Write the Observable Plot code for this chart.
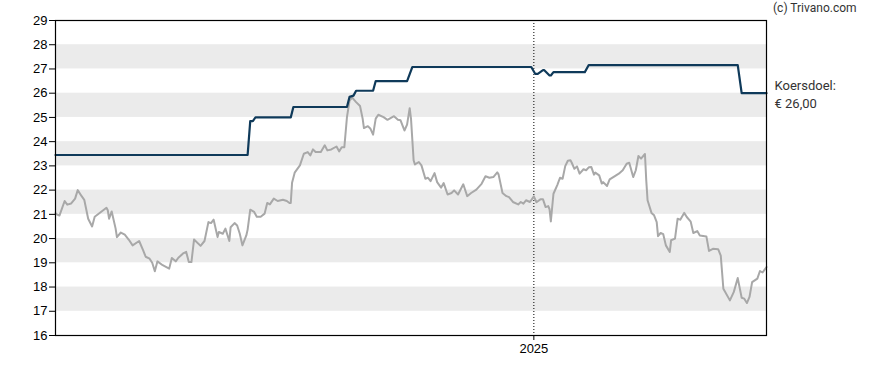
<!DOCTYPE html>
<html>
<head>
<meta charset="utf-8">
<script src="https://cdn.jsdelivr.net/npm/d3@7"></script>
<script src="https://cdn.jsdelivr.net/npm/@observablehq/plot@0.6"></script>
<style>
  html, body { margin: 0; padding: 0; background: #fff; }
  #wrap { position: relative; width: 888px; height: 370px; }
  #credit { position: absolute; left: 773px; top: 0px; font: 12px Roboto, sans-serif; color: #333; line-height: 16px; }
</style>
</head>
<body>
<div id="wrap"><div id="credit">(c) Trivano.com</div></div>
<script>
// ---- data ----
const domainStart = "2024-01-01";
const domainEnd = "2025-06-28";
const yTicks = [16,17,18,19,20,21,22,23,24,25,26,27,28,29];
const bandLows = [17,19,21,23,25,27];
const xTickDates = ["2025-01-01"];
const xTickLabels = ["2025"];
const targetLabel = ["Koersdoel:", "€ 26,00"];

// koersdoel (target price)
const target = [
  ["2024-01-01",23.45],["2024-05-27",23.45],["2024-05-29",24.85],["2024-05-31",24.85],
  ["2024-06-02",25.0],["2024-06-29",25.0],["2024-07-01",25.43],["2024-08-11",25.43],
  ["2024-08-13",25.85],["2024-08-16",25.9],["2024-08-18",26.1],["2024-08-31",26.1],
  ["2024-09-02",26.5],["2024-09-26",26.5],["2024-09-30",27.08],["2024-12-30",27.08],
  ["2025-01-02",26.8],["2025-01-04",26.8],["2025-01-08",26.95],["2025-01-09",26.95],
  ["2025-01-13",26.73],["2025-01-14",26.73],["2025-01-16",26.87],["2025-02-09",26.87],
  ["2025-02-12",27.16],["2025-06-06",27.16],["2025-06-09",26.0],["2025-06-28",26.0]
];

// koers (share price)
const price = [
  ["2024-01-01",21.05],["2024-01-02",21.0],["2024-01-04",20.95],["2024-01-08",21.55],["2024-01-10",21.4],
  ["2024-01-13",21.45],["2024-01-16",21.65],["2024-01-18",22.0],["2024-01-21",21.75],["2024-01-23",21.6],
  ["2024-01-26",20.82],["2024-01-29",20.5],["2024-01-31",20.9],["2024-02-09",21.27],["2024-02-10",21.17],
  ["2024-02-11",20.82],["2024-02-13",21.12],["2024-02-16",20.41],["2024-02-17",20.06],["2024-02-20",20.25],
  ["2024-02-23",20.16],["2024-02-26",19.96],["2024-02-29",19.72],["2024-03-05",19.9],["2024-03-08",19.52],
  ["2024-03-10",19.25],["2024-03-13",19.17],["2024-03-15",19.0],["2024-03-17",18.65],["2024-03-19",19.06],
  ["2024-03-23",18.9],["2024-03-28",18.76],["2024-03-30",19.2],["2024-04-02",19.06],["2024-04-04",19.21],
  ["2024-04-08",19.4],["2024-04-10",19.45],["2024-04-12",19.03],["2024-04-14",19.03],["2024-04-16",19.96],
  ["2024-04-21",19.7],["2024-04-24",19.9],["2024-04-27",20.68],["2024-04-29",20.64],["2024-05-01",20.78],
  ["2024-05-04",20.06],["2024-05-05",20.27],["2024-05-08",20.2],["2024-05-10",20.41],["2024-05-13",19.9],
  ["2024-05-14",20.47],["2024-05-17",20.64],["2024-05-19",20.54],["2024-05-21",20.2],["2024-05-23",19.72],
  ["2024-05-26",20.13],["2024-05-27",20.37],["2024-05-29",21.19],["2024-06-01",21.1],["2024-06-03",20.9],
  ["2024-06-06",20.9],["2024-06-09",21.03],["2024-06-11",21.47],["2024-06-13",21.41],["2024-06-16",21.65],
  ["2024-06-19",21.55],["2024-06-23",21.6],["2024-06-26",21.55],["2024-06-28",21.47],["2024-06-29",21.47],
  ["2024-06-30",22.3],["2024-07-02",22.72],["2024-07-06",23.02],["2024-07-09",23.5],["2024-07-12",23.57],
  ["2024-07-14",23.43],["2024-07-16",23.68],["2024-07-18",23.57],["2024-07-22",23.57],["2024-07-25",23.85],
  ["2024-07-27",23.64],["2024-07-30",23.68],["2024-08-03",23.8],["2024-08-05",23.6],["2024-08-07",23.77],
  ["2024-08-09",23.77],["2024-08-11",25.01],["2024-08-13",25.7],["2024-08-15",25.82],["2024-08-18",25.63],
  ["2024-08-21",25.47],["2024-08-23",24.95],["2024-08-24",24.56],["2024-08-27",24.64],["2024-08-29",24.53],
  ["2024-08-31",24.29],["2024-09-02",24.95],["2024-09-04",25.11],["2024-09-08",25.01],["2024-09-11",24.9],
  ["2024-09-14",24.99],["2024-09-16",25.05],["2024-09-19",24.9],["2024-09-21",24.88],["2024-09-23",24.6],
  ["2024-09-24",24.46],["2024-09-26",24.7],["2024-09-28",25.38],["2024-09-29",24.95],["2024-10-01",23.23],
  ["2024-10-02",23.06],["2024-10-05",23.16],["2024-10-07",23.02],["2024-10-10",22.47],["2024-10-12",22.51],
  ["2024-10-14",22.37],["2024-10-17",22.7],["2024-10-19",22.33],["2024-10-22",22.1],["2024-10-24",22.29],
  ["2024-10-27",21.82],["2024-10-30",21.88],["2024-11-01",21.99],["2024-11-04",21.82],["2024-11-08",22.24],
  ["2024-11-11",21.75],["2024-11-14",21.88],["2024-11-18",22.02],["2024-11-22",22.26],["2024-11-25",22.57],
  ["2024-11-28",22.51],["2024-12-01",22.54],["2024-12-04",22.73],["2024-12-05",22.65],["2024-12-08",21.88],
  ["2024-12-11",21.75],["2024-12-13",21.71],["2024-12-16",21.51],["2024-12-20",21.41],["2024-12-22",21.51],
  ["2024-12-24",21.44],["2024-12-26",21.58],["2024-12-29",21.51],["2025-01-01",21.74],["2025-01-03",21.5],
  ["2025-01-06",21.62],["2025-01-08",21.62],["2025-01-10",21.3],["2025-01-12",21.34],["2025-01-13",21.21],
  ["2025-01-14",20.71],["2025-01-16",21.85],["2025-01-19",22.22],["2025-01-21",22.51],["2025-01-23",22.47],
  ["2025-01-25",22.99],["2025-01-27",23.21],["2025-01-29",23.23],["2025-01-30",23.13],["2025-02-01",22.88],
  ["2025-02-03",22.98],["2025-02-05",22.68],["2025-02-08",22.86],["2025-02-10",22.82],["2025-02-12",22.94],
  ["2025-02-14",22.95],["2025-02-16",22.64],["2025-02-17",22.72],["2025-02-20",22.61],["2025-02-22",22.27],
  ["2025-02-23",22.33],["2025-02-26",22.17],["2025-02-28",22.44],["2025-03-04",22.58],["2025-03-07",22.68],
  ["2025-03-10",22.82],["2025-03-13",23.09],["2025-03-15",23.13],["2025-03-18",22.54],["2025-03-20",22.82],
  ["2025-03-22",23.41],["2025-03-24",23.3],["2025-03-27",23.49],["2025-03-28",22.4],["2025-03-29",21.58],
  ["2025-04-01",21.06],["2025-04-03",20.96],["2025-04-05",20.68],["2025-04-06",20.1],["2025-04-08",20.23],
  ["2025-04-10",20.18],["2025-04-12",19.72],["2025-04-15",19.45],["2025-04-16",19.93],["2025-04-19",20.0],
  ["2025-04-21",20.82],["2025-04-23",20.78],["2025-04-26",21.06],["2025-04-28",20.89],["2025-05-01",20.7],
  ["2025-05-03",20.23],["2025-05-06",20.31],["2025-05-08",20.13],["2025-05-13",20.09],["2025-05-15",19.49],
  ["2025-05-18",19.58],["2025-05-22",19.56],["2025-05-24",19.3],["2025-05-26",17.93],["2025-05-31",17.45],
  ["2025-06-03",17.8],["2025-06-06",18.37],["2025-06-09",17.56],["2025-06-11",17.52],["2025-06-13",17.34],
  ["2025-06-15",17.59],["2025-06-17",18.2],["2025-06-21",18.35],["2025-06-23",18.66],["2025-06-25",18.6],
  ["2025-06-28",18.82]
];

// ---- build ----
const parse = s => new Date(s + "T00:00:00Z");
const priceData = price.map(([d, v]) => ({date: parse(d), value: v}));
const targetData = target.map(([d, v]) => ({date: parse(d), value: v}));
const x0 = parse(domainStart), x1 = parse(domainEnd);
const bands = bandLows.map(v => ({lo: v, hi: v + 1}));
const lastTarget = targetData[targetData.length - 1];

const chart = Plot.plot({
  width: 888,
  height: 370,
  marginLeft: 55,
  marginRight: 122,
  marginTop: 20,
  marginBottom: 35,
  style: {fontFamily: "Arial, 'Liberation Sans', sans-serif", fontSize: "13px", color: "#000", background: "#fff"},
  x: {type: "utc", domain: [x0, x1]},
  y: {domain: [16, 29]},
  marks: [
    Plot.rect(bands, {x1: () => x0, x2: () => x1, y1: "lo", y2: "hi", fill: "#ebebeb"}),
    Plot.ruleX(xTickDates.map(parse), {stroke: "#000", strokeWidth: 1, strokeDasharray: "1,2"}),
    Plot.line(priceData, {x: "date", y: "value", stroke: "#a8a8a8", strokeWidth: 2, curve: "linear"}),
    Plot.line(targetData, {x: "date", y: "value", stroke: "#0f3a5a", strokeWidth: 2.2, curve: "linear"}),
    Plot.frame({stroke: "#000", strokeWidth: 1.2}),
    Plot.axisY({ticks: yTicks, tickSize: 6, tickPadding: 2, label: null, tickFormat: d => String(d)}),
    Plot.axisX({ticks: xTickDates.map(parse), tickSize: 5, tickPadding: 3, label: null,
      tickFormat: d => xTickLabels[xTickDates.map(parse).findIndex(t => +t === +d)]}),
    Plot.text([lastTarget], {x: "date", y: "value", text: () => targetLabel.join("\n"),
      dx: 8, textAnchor: "start", lineAnchor: "middle", lineHeight: 1.35,
      fontFamily: "Roboto, sans-serif", fontSize: 13, fill: "#333", clip: false})
  ]
});
document.getElementById("wrap").prepend(chart);
chart.style.position = "absolute";
chart.style.left = "0px";
chart.style.top = "0px";
</script>
</body>
</html>
